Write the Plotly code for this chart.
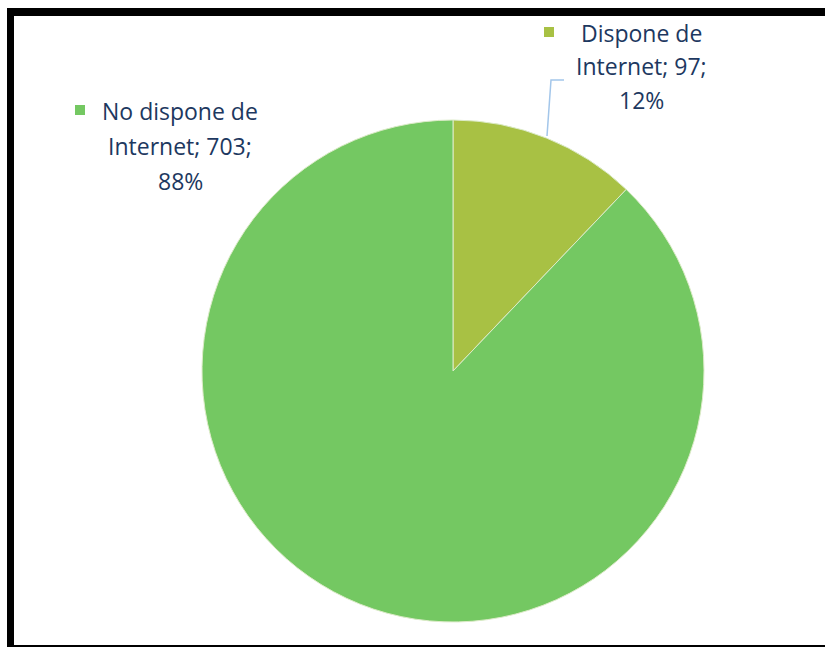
import plotly.graph_objects as go

# data
labels = ["Dispone de Internet", "No dispone de Internet"]
values = [97, 703]
colors = ["#a8c144", "#74c862"]

W, H = 825, 647
total = sum(values)
pcts = [round(100 * v / total) for v in values]

def px(x):
    return x / W

def py(y):
    return 1 - y / H

fig = go.Figure()

# pie centre (453, 371), radius ~251 px
fig.add_trace(go.Pie(
    labels=labels,
    values=values,
    sort=False,
    direction="clockwise",
    rotation=0,
    textinfo="none",
    hoverinfo="label+value+percent",
    marker=dict(colors=colors, line=dict(color="#dcebc8", width=1)),
    domain=dict(x=[px(453 - 251), px(453 + 251)], y=[py(371 + 251), py(371 - 251)]),
    showlegend=False,
))

txt_font = dict(family="'Open Sans', sans-serif", size=23, color="#1d3860")

# label blocks: (text centre x, line y's, square centre x, square y)
label_pos = [
    (641, [33, 66, 100], 549, 32),
    (180, [111, 146, 181], 80, 110),
]

annotations = []
shapes = []
for i, lab in enumerate(labels):
    words = lab.split(" ")
    first = " ".join(words[:-1])
    lines = [first, f"{words[-1]}; {values[i]};", f"{pcts[i]}%"]
    cx, ys, sqx, sqy = label_pos[i]
    for line, y in zip(lines, ys):
        annotations.append(dict(
            x=px(cx), y=py(y), xref="paper", yref="paper",
            text=line, showarrow=False, font=txt_font,
            xanchor="center", yanchor="middle",
        ))
    shapes.append(dict(
        type="rect", xref="paper", yref="paper",
        x0=px(sqx - 5), x1=px(sqx + 5), y0=py(sqy + 5), y1=py(sqy - 5),
        fillcolor=colors[i], line=dict(width=0),
    ))

# leader line for the small slice
shapes.append(dict(
    type="path", xref="paper", yref="paper",
    path=f"M {px(564)},{py(80)} L {px(551)},{py(80)} L {px(547)},{py(136)}",
    line=dict(color="#a3c6ea", width=1.5),
))

# black frame
frame = "black"
shapes.append(dict(type="rect", xref="paper", yref="paper",
                   x0=px(7), x1=1, y0=py(16), y1=py(8),
                   fillcolor=frame, line=dict(width=0)))
shapes.append(dict(type="rect", xref="paper", yref="paper",
                   x0=px(7), x1=px(14), y0=py(646), y1=py(8),
                   fillcolor=frame, line=dict(width=0)))
shapes.append(dict(type="rect", xref="paper", yref="paper",
                   x0=px(7), x1=1, y0=py(647), y1=py(645),
                   fillcolor=frame, line=dict(width=0)))

fig.update_layout(
    width=W, height=H,
    margin=dict(l=0, r=0, t=0, b=0),
    paper_bgcolor="white",
    plot_bgcolor="white",
    annotations=annotations,
    shapes=shapes,
)

# drop the browser's default body margin so the figure sits at (0, 0)
fig.write_html(
    "out.html",
    config={"displayModeBar": False},
    post_script="document.body.style.margin='0';document.body.style.overflow='hidden';",
)
